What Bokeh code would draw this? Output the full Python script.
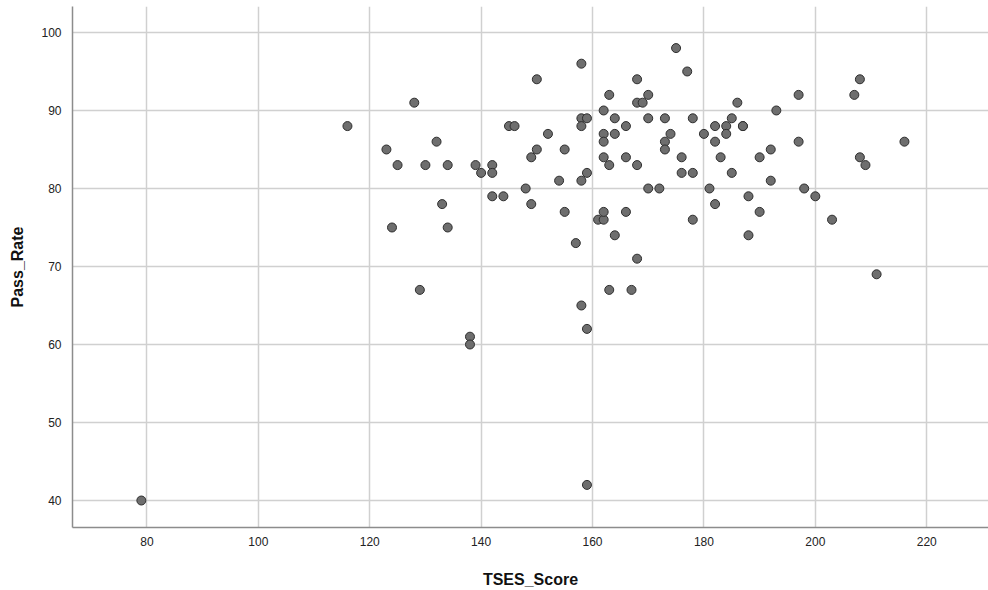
from bokeh.plotting import figure
from bokeh.models import FixedTicker, Range1d, ColumnDataSource
from bokeh.embed import file_html
from bokeh.resources import INLINE

tses_score = [79, 116, 123, 124, 125, 128, 129, 130, 132, 133, 134, 134,
              138, 138, 139, 140, 142, 142, 142, 144, 145, 146, 148, 149, 149,
              150, 150, 152, 154, 155, 155, 157, 158, 158, 158, 158, 158,
              159, 159, 159, 159, 161, 162, 162, 162, 162, 162, 162,
              163, 163, 163, 164, 164, 164, 166, 166, 166, 167,
              168, 168, 168, 168, 169, 170, 170, 170, 172, 173, 173, 173,
              174, 175, 176, 176, 177, 178, 178, 178, 180, 181,
              182, 182, 182, 183, 184, 184, 185, 185, 186, 187, 187, 188, 188,
              190, 190, 192, 192, 193, 197, 197, 198, 200, 203,
              207, 208, 208, 209, 211, 216]
pass_rate = [40, 88, 85, 75, 83, 91, 67, 83, 86, 78, 83, 75,
             61, 60, 83, 82, 83, 82, 79, 79, 88, 88, 80, 84, 78,
             94, 85, 87, 81, 85, 77, 73, 96, 89, 88, 81, 65,
             89, 82, 62, 42, 76, 76, 90, 87, 86, 84, 77,
             92, 83, 67, 89, 87, 74, 88, 84, 77, 67,
             94, 91, 83, 71, 91, 92, 89, 80, 80, 89, 86, 85,
             87, 98, 84, 82, 95, 89, 82, 76, 87, 80,
             88, 86, 78, 84, 88, 87, 89, 82, 91, 88, 88, 79, 74,
             84, 77, 85, 81, 90, 92, 86, 80, 79, 76,
             92, 94, 84, 83, 69, 86]

x_ticks = [80, 100, 120, 140, 160, 180, 200, 220]
y_ticks = [40, 50, 60, 70, 80, 90, 100]

source = ColumnDataSource(data=dict(x=tses_score, y=pass_rate))

p = figure(width=988, height=590,
           x_range=Range1d(66.64, 231.09), y_range=Range1d(36.54, 103.33),
           output_backend="svg", toolbar_location=None,
           min_border_left=72, min_border_right=0, min_border_top=6,
           min_border_bottom=63)

p.outline_line_color = None
p.background_fill_color = "white"
p.border_fill_color = "white"

p.scatter("x", "y", source=source, size=9, fill_color="#6e6e6e",
          line_color="#2e2e2e", line_width=1)

for ax in (p.xaxis[0], p.yaxis[0]):
    ax.major_tick_line_color = None
    ax.minor_tick_line_color = None
    ax.axis_line_color = "#8c8c8c"
    ax.axis_line_width = 1.5
    ax.major_label_text_font = "Liberation Sans"
    ax.major_label_text_font_size = "12px"
    ax.major_label_text_color = "#222222"
    ax.axis_label_text_font = "Liberation Sans"
    ax.axis_label_text_font_size = "16px"
    ax.axis_label_text_font_style = "bold"
    ax.axis_label_text_color = "#111111"

p.xaxis.ticker = FixedTicker(ticks=x_ticks)
p.yaxis.ticker = FixedTicker(ticks=y_ticks)
p.xaxis.axis_label = "TSES_Score"
p.yaxis.axis_label = "Pass_Rate"
p.xaxis.major_label_standoff = 3
p.yaxis.major_label_standoff = 5
p.xaxis.axis_label_standoff = 22
p.yaxis.axis_label_standoff = 12

p.xgrid.ticker = FixedTicker(ticks=x_ticks)
p.ygrid.ticker = FixedTicker(ticks=y_ticks)
p.grid.grid_line_color = "#d0d0d0"
p.grid.grid_line_width = 1.5

open("out.html", "w").write(file_html(p, INLINE))
